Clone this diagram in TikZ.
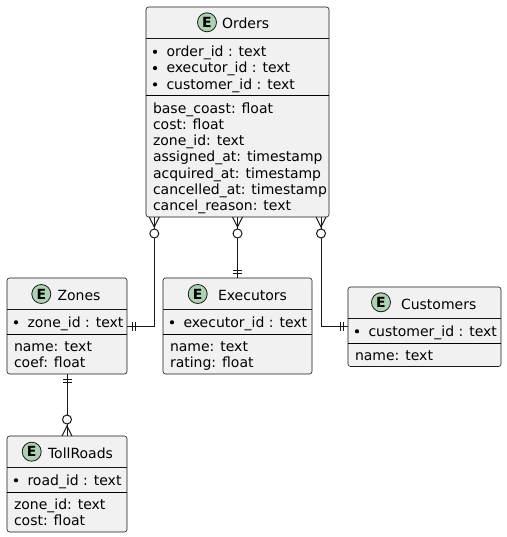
\documentclass[tikz,border=0pt]{standalone}
\usepackage{fontspec}
\setmainfont{DejaVu Sans}
\usetikzlibrary{calc}
\definecolor{ln}{HTML}{181818}
\definecolor{bx}{HTML}{F1F1F1}
\definecolor{eg}{HTML}{ADD1B2}
\tikzset{
  ent/.style={draw=ln, fill=bx, rounded corners=2.5pt, line width=0.6pt, inner sep=0pt, outer sep=0pt, anchor=north west},
  hdr/.style={draw=ln, line width=0.6pt},
  sepl/.style={draw=black, line width=1pt},
  txt/.style={anchor=base west, inner sep=0pt, outer sep=0pt, font=\fontsize{14}{16.3}\selectfont, text=black},
  ebadge/.style={circle, draw=ln, fill=eg, line width=0.8pt, minimum size=19pt, inner sep=0pt, font=\bfseries\fontsize{14}{14}\selectfont},
  blt/.style={circle, fill=black, minimum size=4.2pt, inner sep=0pt},
  rel/.style={draw=ln, line width=1pt},
  pics/crowdown/.style={code={
    \draw[rel] (-5,0) -- (0,10) -- (5,0);
    \draw[rel,fill=white] (0,16.5) circle[radius=4.5];}},
  pics/crowup/.style={code={
    \draw[rel] (-5,0) -- (0,-10) -- (5,0);
    \draw[rel,fill=white] (0,-16.5) circle[radius=4.5];}},
}
\begin{document}
\begin{tikzpicture}[x=1pt,y=-1pt]
\useasboundingbox (0,0) rectangle (506,537);

% ---------- Orders ----------
\node[ent, minimum width=183pt, minimum height=210pt] (orders) at (146,7) {};
\draw[hdr] (146,38.5) -- (329,38.5);
\draw[sepl] (146,95.6) -- (329,95.6);
\node[ebadge] (orders-e) at (207,22.3) {E};
\node[txt] (orders-t) at (222,29) {Orders};
\node[blt] (orders-b1) at (155,51.8) {};
\node[blt] (orders-b2) at (155,68.1) {};
\node[blt] (orders-b3) at (155,84.4) {};
\node[txt] (orders-k1) at (166.5,56.5) {order\_id : text};
\node[txt] (orders-k2) at (166.5,72.8) {executor\_id : text};
\node[txt] (orders-k3) at (166.5,89.1) {customer\_id : text};
\node[txt] (orders-a1) at (153,113.1) {base\_coast: float};
\node[txt] (orders-a2) at (153,129.4) {cost: float};
\node[txt] (orders-a3) at (153,145.7) {zone\_id: text};
\node[txt] (orders-a4) at (153,162.0) {assigned\_at: timestamp};
\node[txt] (orders-a5) at (153,178.3) {acquired\_at: timestamp};
\node[txt] (orders-a6) at (153,194.6) {cancelled\_at: timestamp};
\node[txt] (orders-a7) at (153,210.9) {cancel\_reason: text};

% ---------- Zones ----------
\node[ent, minimum width=120pt, minimum height=96pt] (zones) at (7,278) {};
\draw[hdr] (7,309.5) -- (127,309.5);
\draw[sepl] (7,334) -- (127,334);
\node[ebadge] (zones-e) at (41.3,294) {E};
\node[txt] (zones-t) at (57.5,300) {Zones};
\node[blt] (zones-b1) at (16,322.3) {};
\node[txt] (zones-k1) at (27.5,327) {zone\_id : text};
\node[txt] (zones-a1) at (14,351.5) {name: text};
\node[txt] (zones-a2) at (14,367.8) {coef: float};

% ---------- Executors ----------
\node[ent, minimum width=149pt, minimum height=96pt] (executors) at (163,278) {};
\draw[hdr] (163,309.5) -- (312,309.5);
\draw[sepl] (163,334) -- (312,334);
\node[ebadge] (executors-e) at (197.7,294) {E};
\node[txt] (executors-t) at (218,300) {Executors};
\node[blt] (executors-b1) at (172,322.3) {};
\node[txt] (executors-k1) at (183.5,327) {executor\_id : text};
\node[txt] (executors-a1) at (170,351.5) {name: text};
\node[txt] (executors-a2) at (170,367.8) {rating: float};

% ---------- Customers ----------
\node[ent, minimum width=153pt, minimum height=79.5pt] (customers) at (348,287) {};
\draw[hdr] (348,318.5) -- (501,318.5);
\draw[sepl] (348,343) -- (501,343);
\node[ebadge] (customers-e) at (381,302.3) {E};
\node[txt] (customers-t) at (401,309) {Customers};
\node[blt] (customers-b1) at (357,331.3) {};
\node[txt] (customers-k1) at (368.5,336) {customer\_id : text};
\node[txt] (customers-a1) at (355,360.5) {name: text};

% ---------- TollRoads ----------
\node[ent, minimum width=120pt, minimum height=96pt] (tollroads) at (7,436) {};
\draw[hdr] (7,467.5) -- (127,467.5);
\draw[sepl] (7,492) -- (127,492);
\node[ebadge] (tollroads-e) at (31.7,451.7) {E};
\node[txt] (tollroads-t) at (48,458) {TollRoads};
\node[blt] (tollroads-b1) at (16,480.3) {};
\node[txt] (tollroads-k1) at (27.5,485) {road\_id : text};
\node[txt] (tollroads-a1) at (14,509.5) {zone\_id: text};
\node[txt] (tollroads-a2) at (14,525.8) {cost: float};

% ---------- Relations ----------
\coordinate (oz) at ($(orders.south west)+(8.3,0)$);
\coordinate (oc) at ($(orders.south east)+(-8,0)$);

\draw[rel] (oz) |- (zones.east);
\draw[rel] (orders.south) -- (executors.north);
\draw[rel] (oc) |- (customers.west);
\draw[rel] (zones.south) -- (tollroads.north);

\pic at (oz) {crowdown};
\pic at (orders.south) {crowdown};
\pic at (oc) {crowdown};
\pic at (tollroads.north) {crowup};

\draw[rel] ($(zones.east)+(5,-4.5)$) -- ++(0,9) ($(zones.east)+(8,-4.5)$) -- ++(0,9);
\draw[rel] ($(executors.north)+(-4.5,-5)$) -- ++(9,0) ($(executors.north)+(-4.5,-8)$) -- ++(9,0);
\draw[rel] ($(customers.west)+(-5,-4.5)$) -- ++(0,9) ($(customers.west)+(-8,-4.5)$) -- ++(0,9);
\draw[rel] ($(zones.south)+(-4.5,5)$) -- ++(9,0) ($(zones.south)+(-4.5,8)$) -- ++(9,0);
\end{tikzpicture}
\end{document}
